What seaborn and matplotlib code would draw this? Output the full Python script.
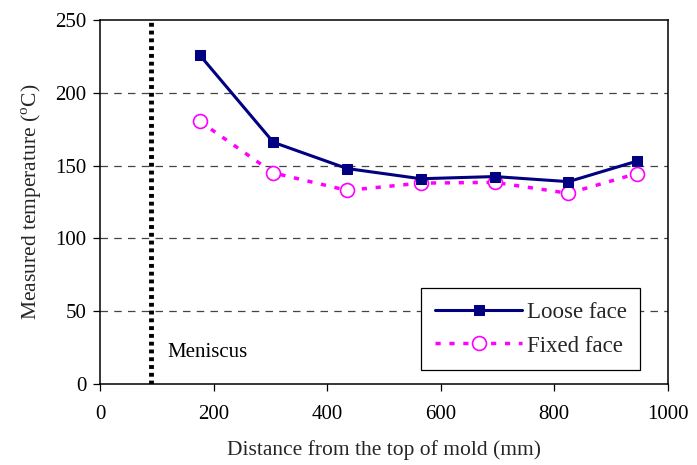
import matplotlib
matplotlib.use("Agg")
import matplotlib.pyplot as plt
import seaborn as sns
import pandas as pd

distance_mm = [175, 305, 435, 565, 695, 825, 945]
loose_face = [226, 166, 148, 141, 142.5, 139, 153]
fixed_face = [180.5, 145, 133, 138, 138.5, 131, 144.5]
meniscus_mm = 90
x_ticks = [0, 200, 400, 600, 800, 1000]
y_ticks = [0, 50, 100, 150, 200, 250]

sns.set_theme(style="white")
plt.rcParams['font.family'] = ['Liberation Serif', 'DejaVu Serif']
plt.rcParams['mathtext.fontset'] = 'custom'
plt.rcParams['mathtext.rm'] = 'Liberation Serif'

df = pd.DataFrame({
    "x": distance_mm * 2,
    "y": loose_face + fixed_face,
    "series": ["Loose face"] * len(distance_mm) + ["Fixed face"] * len(distance_mm),
})

fig = plt.figure(figsize=(6.97, 4.65), dpi=100)
ax = fig.add_axes([0.144, 0.174, 0.814, 0.783])

for yv in y_ticks[1:-1]:
    ax.axhline(yv, color="#444444", lw=0.9, ls=(0, (6, 5)), zorder=0)

ax.axvline(meniscus_mm, color="black", lw=3.5, ls=(0, (0.8, 0.8)), zorder=1)

sns.lineplot(data=df[df.series == "Loose face"], x="x", y="y", ax=ax,
             color="#000080", lw=2.2, marker="s", markersize=7,
             markeredgecolor="#000080", label="Loose face", zorder=3)
sns.lineplot(data=df[df.series == "Fixed face"], x="x", y="y", ax=ax,
             color="#FF00FF", lw=2.5, ls=(0, (1.5, 2.5)), marker="o", markersize=10,
             markerfacecolor="white", markeredgecolor="#FF00FF", markeredgewidth=1.2,
             label="Fixed face", zorder=2)

ax.text(118, 22, "Meniscus", fontsize=15, color="black", va="center", ha="left")

ax.set_xlim(0, 1000)
ax.set_ylim(0, 250)
ax.set_xticks(x_ticks)
ax.set_yticks(y_ticks)
ax.tick_params(axis="both", direction="out", length=5, width=0.9, labelsize=15,
               bottom=True, left=True, colors="black", pad=5)
ax.tick_params(axis="x", pad=10)
for s in ax.spines.values():
    s.set_color("black")
    s.set_linewidth(1.1)

ax.set_xlabel("Distance from the top of mold (mm)", fontsize=15.5, labelpad=12)
ax.set_ylabel("Measured temperature ($^{\\rm o}$C)", fontsize=15.5, labelpad=8)

leg = ax.legend(loc="lower right", bbox_to_anchor=(0.952, 0.038), borderaxespad=0,
                fontsize=16.5,
                frameon=True, fancybox=False, edgecolor="black", framealpha=1,
                handlelength=3.8, borderpad=0.6, labelspacing=0.55, handletextpad=0.2)
leg.get_frame().set_linewidth(0.9)

fig.savefig("out.png", dpi=100)
